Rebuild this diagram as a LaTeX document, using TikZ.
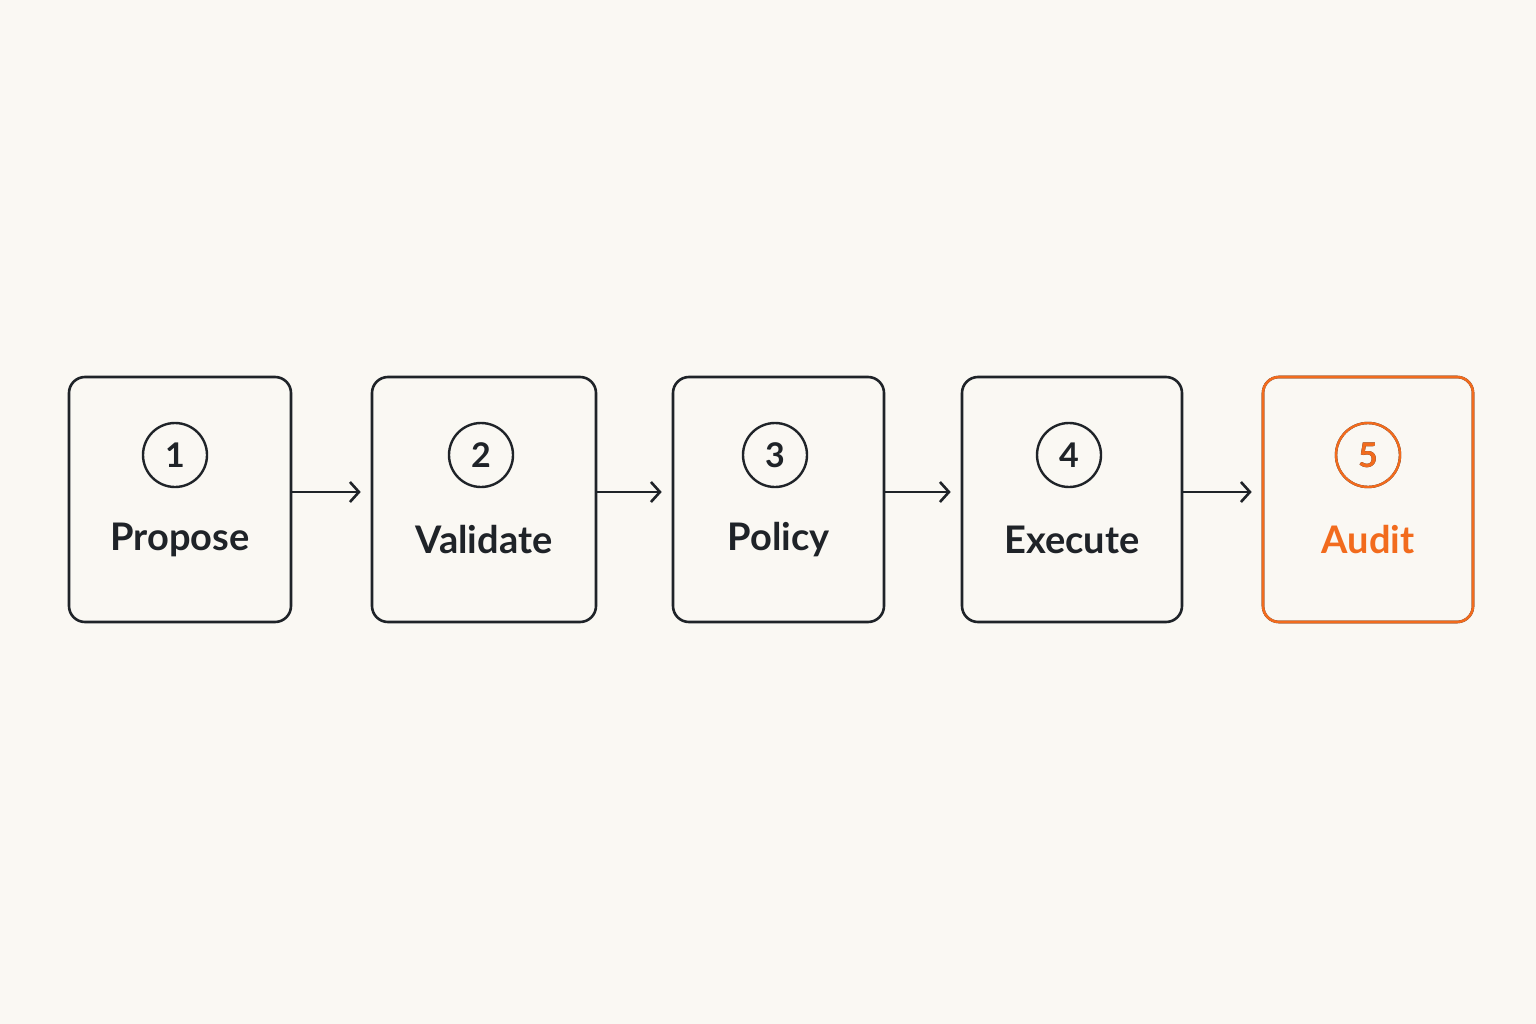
\documentclass[tikz,border=0pt]{standalone}
\usepackage{fontspec}
\setmainfont{Lato}
\usetikzlibrary{arrows.meta}
\definecolor{bg}{HTML}{FAF8F3}
\definecolor{ink}{HTML}{1F2328}
\definecolor{org}{HTML}{F26B1D}
\begin{document}
\begin{tikzpicture}[x=1pt,y=-1pt,
  box/.style={draw=ink,line width=2.6pt,rounded corners=16pt,inner sep=0pt},
  num/.style={circle,draw=ink,line width=2.4pt,minimum size=64pt,inner sep=0pt,font=\fontsize{34}{34}\selectfont\bfseries,text=ink},
  lab/.style={font=\fontsize{38}{38}\selectfont\bfseries,text=ink},
  arr/.style={draw=ink,line width=2.6pt,-{Straight Barb[length=9pt,width=20pt,line width=2.6pt]}}]
\fill[bg] (0,0) rectangle (1536,1024);
\useasboundingbox (0,0) rectangle (1536,1024);
\foreach \n/\l/\r/\t/\cx in {1/69/291/Propose/175,2/372/596/Validate/481,3/673/884/Policy/775,4/962/1182/Execute/1069,5/1263/1473/Audit/1368}{
  \node[box,minimum width={\r-\l},minimum height=245pt] (b\n) at ({(\l+\r)/2},499.5) {};
  \node[num] (c\n) at (\cx,455) {\n};
  \node[lab] (t\n) at ({(\l+\r)/2},540) {\t};
}
\node[box,draw=org,minimum width=210pt,minimum height=245pt] (b5o) at (1368,499.5) {};
\node[num,draw=org,text=org] (c5o) at (1368,455) {5};
\fill[bg] (1300,520) rectangle (1440,570);
\node[lab,text=org] (t5o) at (1368,540) {Audit};
\draw[arr] ([yshift=7.5pt]b1.east) -- ([xshift=-10pt,yshift=7.5pt]b2.west);
\draw[arr] ([yshift=7.5pt]b2.east) -- ([xshift=-10pt,yshift=7.5pt]b3.west);
\draw[arr] ([yshift=7.5pt]b3.east) -- ([xshift=-10pt,yshift=7.5pt]b4.west);
\draw[arr] ([yshift=7.5pt]b4.east) -- ([xshift=-10pt,yshift=7.5pt]b5.west);
\end{tikzpicture}
\end{document}
